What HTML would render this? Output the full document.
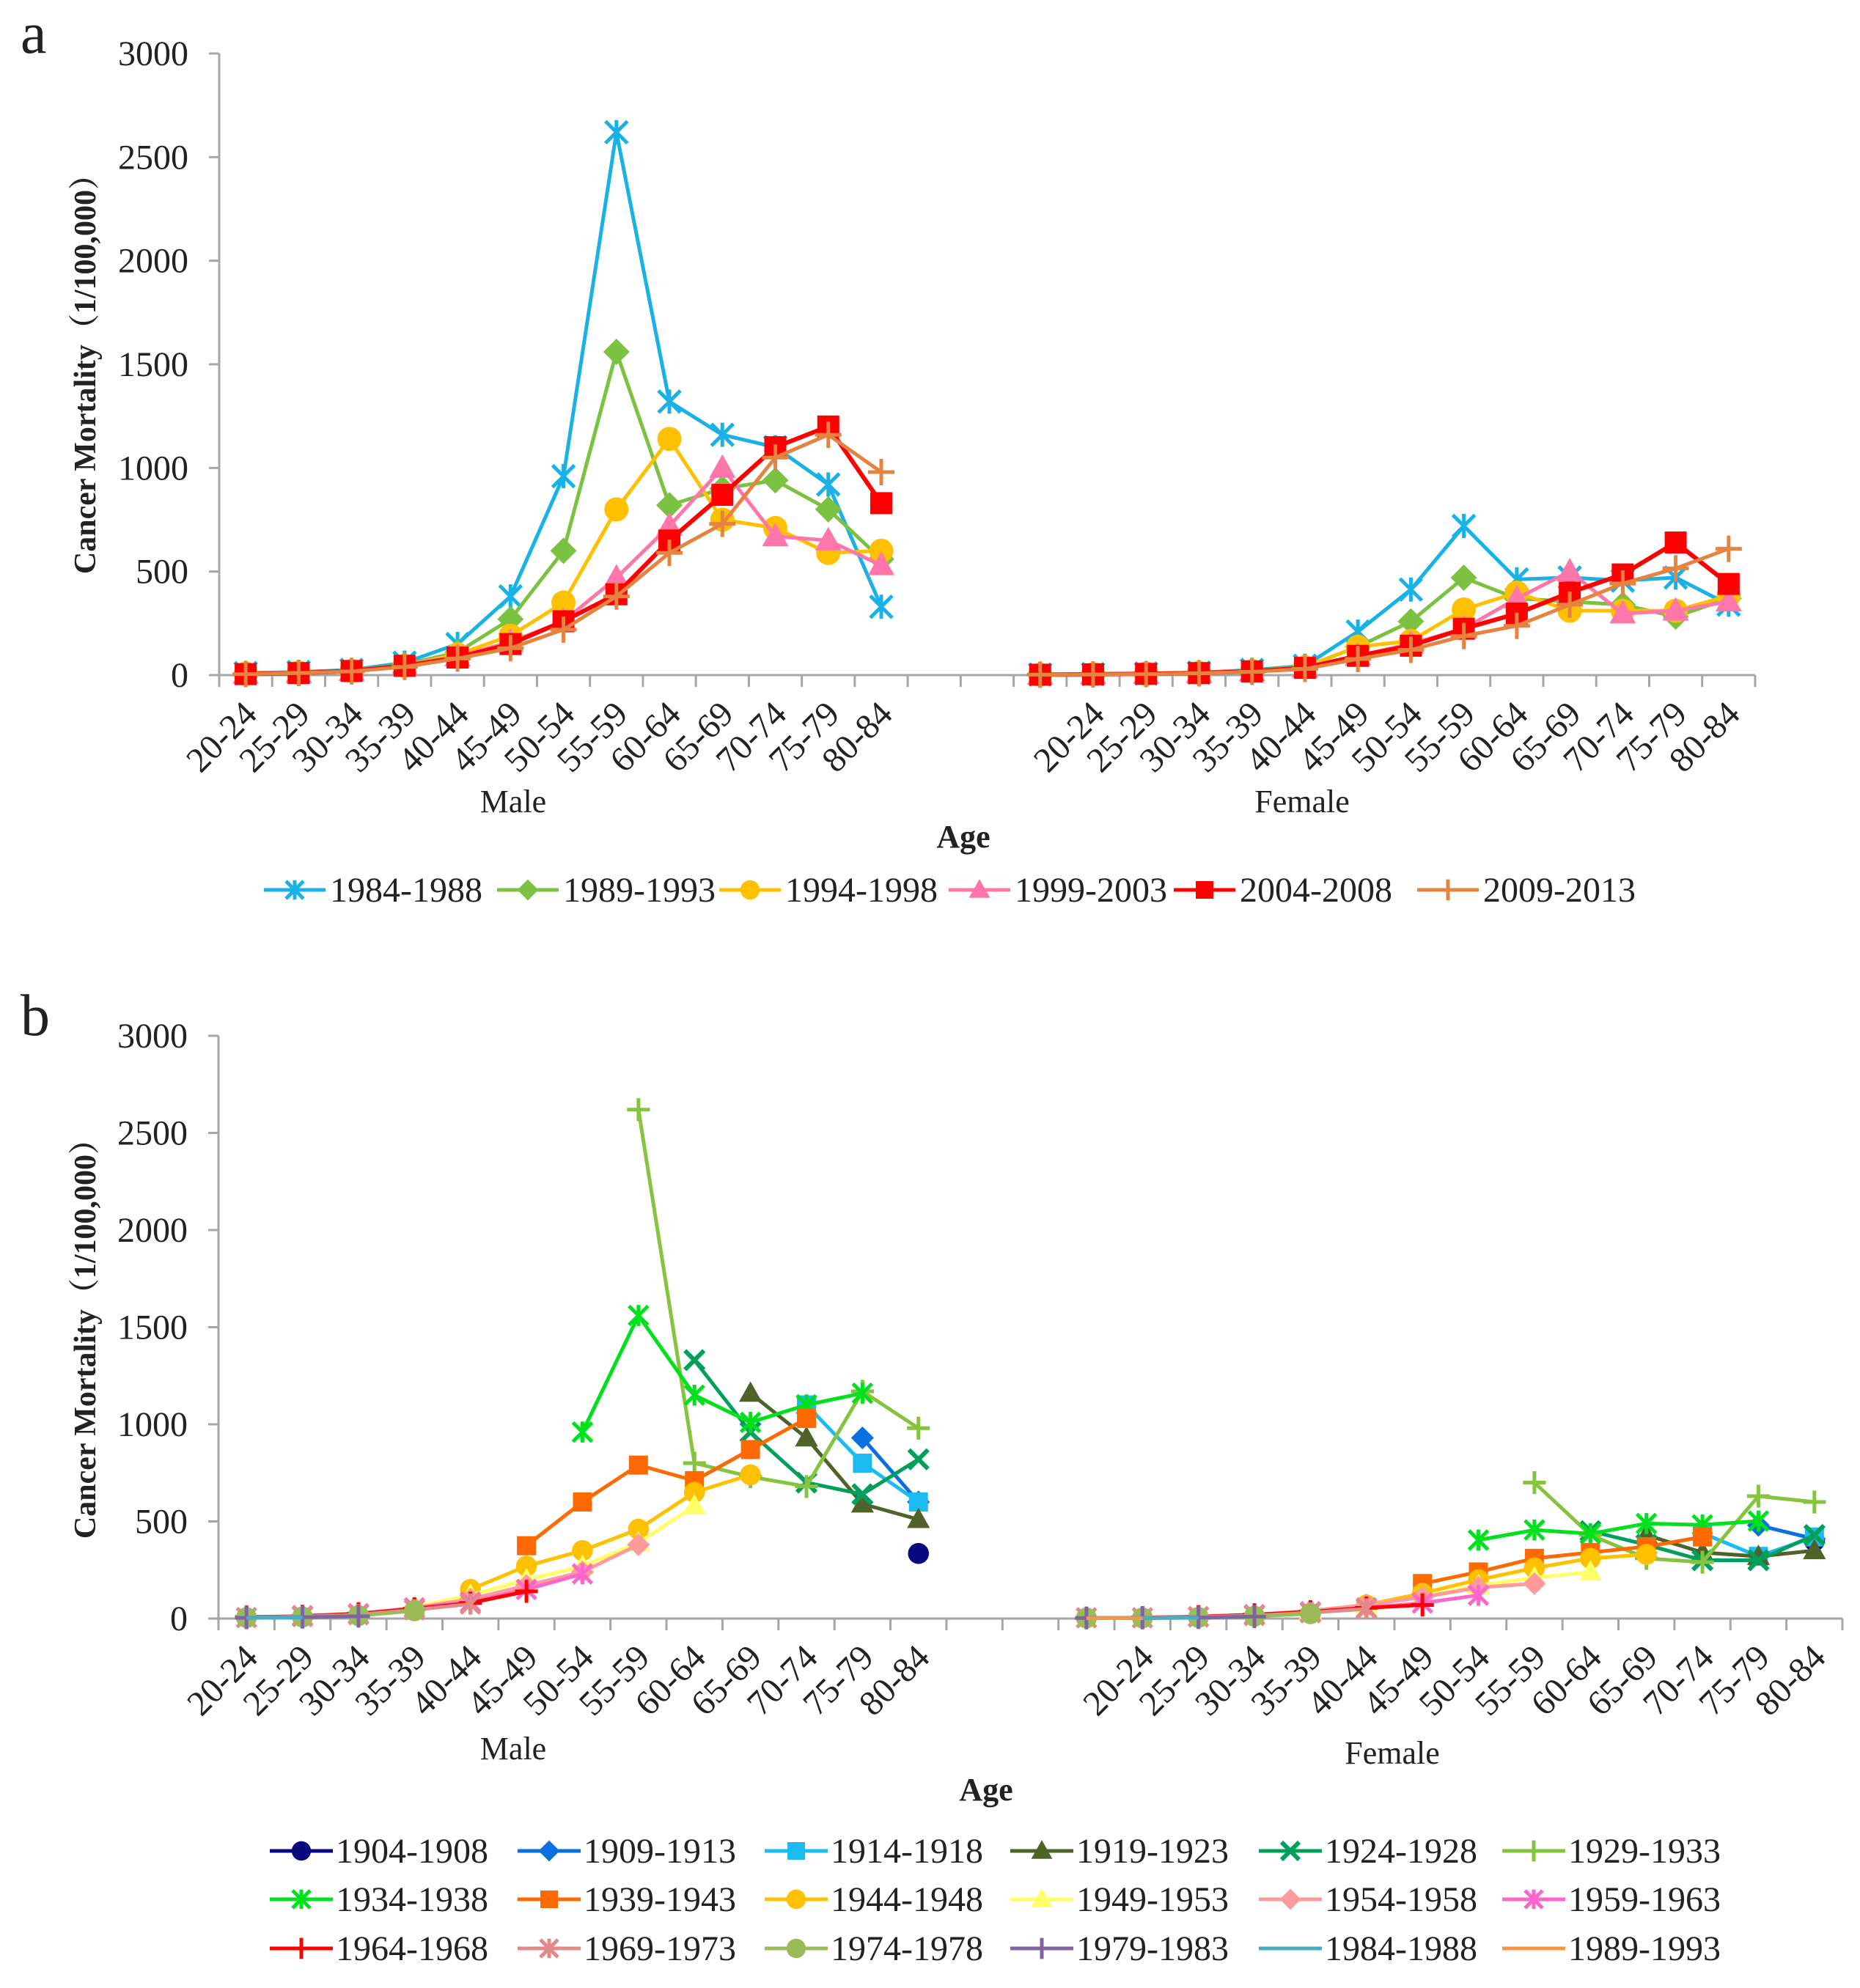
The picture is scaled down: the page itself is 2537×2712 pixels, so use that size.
<!DOCTYPE html>
<html><head><meta charset="utf-8"><style>
html,body{margin:0;padding:0;background:#fff;}
svg{display:block;font-family:"Liberation Serif",serif;}
</style></head><body>
<svg id="fig" width="2537" height="2712" viewBox="0 0 2537 2712" xmlns="http://www.w3.org/2000/svg">
<rect width="2537" height="2712" fill="#fff"/>
</svg>
<script>
// ---------- shared categories ----------
const ageLabels = ["20-24","25-29","30-34","35-39","40-44","45-49","50-54","55-59","60-64","65-69","70-74","75-79","80-84"];
const yTicks = [0,500,1000,1500,2000,2500,3000];

// ---------- panel a data ----------
const aSeriesNames = ["1984-1988","1989-1993","1994-1998","1999-2003","2004-2008","2009-2013"];
const aMale1984 = [10,15,25,60,150,380,960,2620,1320,1160,1100,920,330];
const aMale1989 = [8,12,22,50,110,270,600,1560,820,900,940,800,560];
const aMale1994 = [7,12,20,45,100,190,350,800,1140,750,710,590,600];
const aMale1999 = [6,10,20,45,90,160,260,470,720,1000,670,650,530];
const aMale2004 = [5,10,20,45,85,150,260,390,650,870,1100,1200,830];
const aMale2009 = [5,10,18,40,80,130,220,380,590,730,1050,1160,980];
const aFem1984 = [3,5,8,12,25,45,210,413,720,462,471,456,471,340];
const aFem1989 = [3,5,8,12,22,40,137,259,470,370,355,340,282,370];
const aFem1994 = [2,4,7,11,20,38,137,165,317,398,311,311,311,383];
const aFem1999 = [2,4,6,10,18,35,93,151,224,370,500,297,311,355];
const aFem2004 = [2,4,6,10,18,35,93,142,224,297,398,486,640,440];
const aFem2009 = [2,3,5,9,16,30,78,122,189,238,340,442,515,610];

// ---------- panel b data (null = no value) ----------
const N = null;
const bSeriesNames = ["1904-1908","1909-1913","1914-1918","1919-1923","1924-1928","1929-1933","1934-1938","1939-1943","1944-1948","1949-1953","1954-1958","1959-1963","1964-1968","1969-1973","1974-1978","1979-1983","1984-1988","1989-1993"];
const bMale1904 = [N,N,N,N,N,N,N,N,N,N,N,N,335];
const bMale1909 = [N,N,N,N,N,N,N,N,N,N,N,930,600];
const bMale1914 = [N,N,N,N,N,N,N,N,N,N,1100,800,600];
const bMale1919 = [N,N,N,N,N,N,N,N,N,1160,930,590,510];
const bMale1924 = [N,N,N,N,N,N,N,N,1330,960,700,640,820];
const bMale1929 = [N,N,N,N,N,N,N,2620,800,730,680,1170,980];
const bMale1934 = [N,N,N,N,N,N,960,1560,1150,1010,1100,1160,N];
const bMale1939 = [N,N,N,N,N,375,600,790,710,870,1030,N,N];
const bMale1944 = [N,N,N,N,150,270,350,460,650,740,N,N,N];
const bMale1949 = [N,N,N,60,120,200,270,390,580,N,N,N,N];
const bMale1954 = [N,N,25,55,100,170,240,380,N,N,N,N,N];
const bMale1959 = [N,15,25,55,85,150,230,N,N,N,N,N,N];
const bMale1964 = [8,12,25,50,80,140,N,N,N,N,N,N,N];
const bMale1969 = [5,10,20,45,75,N,N,N,N,N,N,N,N];
const bMale1974 = [5,8,15,40,N,N,N,N,N,N,N,N,N];
const bMale1979 = [4,7,12,N,N,N,N,N,N,N,N,N,N];
const bMale1984 = [3,6,N,N,N,N,N,N,N,N,N,N,N];
const bMale1989 = [3,N,N,N,N,N,N,N,N,N,N,N,N];
const bFem1904 = [N,N,N,N,N,N,N,N,N,N,N,N,N,400];
const bFem1909 = [N,N,N,N,N,N,N,N,N,N,N,N,480,410];
const bFem1914 = [N,N,N,N,N,N,N,N,N,N,N,440,320,420];
const bFem1919 = [N,N,N,N,N,N,N,N,N,N,430,340,320,350];
const bFem1924 = [N,N,N,N,N,N,N,N,N,450,380,300,300,430];
const bFem1929 = [N,N,N,N,N,N,N,N,700,430,310,290,630,600];
const bFem1934 = [N,N,N,N,N,N,N,404,456,437,489,482,502,N];
const bFem1939 = [N,N,N,N,N,N,180,240,310,340,370,420,N,N];
const bFem1944 = [N,N,N,N,N,70,130,200,260,310,330,N,N,N];
const bFem1949 = [N,N,N,N,40,70,110,170,210,240,N,N,N,N];
const bFem1954 = [N,N,N,20,40,70,110,160,180,N,N,N,N,N];
const bFem1959 = [N,N,10,20,35,55,80,120,N,N,N,N,N,N];
const bFem1964 = [N,5,10,20,35,55,70,N,N,N,N,N,N,N];
const bFem1969 = [4,4,8,15,30,50,N,N,N,N,N,N,N,N];
const bFem1974 = [3,3,6,12,25,N,N,N,N,N,N,N,N,N];
const bFem1979 = [3,3,5,10,N,N,N,N,N,N,N,N,N,N];
const bFem1984 = [2,2,4,N,N,N,N,N,N,N,N,N,N,N];
const bFem1989 = [2,2,N,N,N,N,N,N,N,N,N,N,N,N];

// ---------- styles (not data) ----------
const aStyles = [
 {c:"#19b1e6",m:"star",w:5},{c:"#7cc242",m:"diamond",w:5},{c:"#ffc000",m:"circle",w:5},
 {c:"#ff77aa",m:"triangle",w:5},{c:"#ff0000",m:"square",w:6},{c:"#e58340",m:"plus",w:5}];
const bStyles = [
 {c:"#0a0a80",m:"circle"},{c:"#0a6fe0",m:"diamond"},{c:"#1cbcf2",m:"square"},{c:"#4f6228",m:"triangle"},
 {c:"#00a05c",m:"x"},{c:"#86c440",m:"plus"},{c:"#00e11e",m:"star"},{c:"#ff6a00",m:"square"},
 {c:"#ffc000",m:"circle"},{c:"#ffff66",m:"triangle"},{c:"#ff9a9a",m:"diamond"},{c:"#ff66cc",m:"star"},
 {c:"#ff0000",m:"plus"},{c:"#e08a8a",m:"star"},{c:"#9bbb59",m:"circle"},{c:"#8064a2",m:"plus"},
 {c:"#4bacc6",m:"none"},{c:"#f79646",m:"none"}];

const SVGNS="http://www.w3.org/2000/svg";
const svg=document.getElementById("fig");
function el(tag,attrs,parent){const e=document.createElementNS(SVGNS,tag);for(const k in attrs)e.setAttribute(k,attrs[k]);(parent||svg).appendChild(e);return e;}

function marker(g,type,x,y,c,s){
  let e;
  if(type==="circle"){e=el("circle",{cx:x,cy:y,r:s*0.55,fill:c},g);}
  else if(type==="square"){e=el("rect",{x:x-s*0.5,y:y-s*0.5,width:s,height:s,fill:c},g);}
  else if(type==="diamond"){e=el("polygon",{points:`${x},${y-s*0.6} ${x+s*0.6},${y} ${x},${y+s*0.6} ${x-s*0.6},${y}`,fill:c},g);}
  else if(type==="triangle"){e=el("polygon",{points:`${x},${y-s*0.62} ${x+s*0.6},${y+s*0.45} ${x-s*0.6},${y+s*0.45}`,fill:c},g);}
  else if(type==="plus"){const h=s*0.6;e=el("path",{d:`M${x-h},${y}H${x+h}M${x},${y-h}V${y+h}`,stroke:c,"stroke-width":5,fill:"none"},g);}
  else if(type==="x"){const h=s*0.5;e=el("path",{d:`M${x-h},${y-h}L${x+h},${y+h}M${x-h},${y+h}L${x+h},${y-h}`,stroke:c,"stroke-width":6,fill:"none"},g);}
  else if(type==="star"){const h=s*0.5;e=el("path",{d:`M${x-h},${y-h}L${x+h},${y+h}M${x-h},${y+h}L${x+h},${y-h}M${x},${y-h*1.1}V${y+h*1.1}`,stroke:c,"stroke-width":5,fill:"none"},g);}
  if(e){
    
    
  }
}

function legendIcon(g,x,y,st,len){
  const l=el("line",{x1:x,y1:y,x2:x+len,y2:y,stroke:st.c,"stroke-width":5},g);
  
  
  marker(g,st.m,x+len/2,y,st.c,24);
}

function panel(cfg){
  const {x0,step,y0,yTop,id}=cfg;
  const xs=i=>x0+step*(i+0.5);
  const ys=v=>y0-(v/3000)*(y0-yTop);
  const xEnd=x0+step*29;
  const g=el("g",{});
  
  
  const ya=el("line",{x1:x0,y1:yTop,x2:x0,y2:y0,stroke:"#a6a6a6","stroke-width":3},g);
  
  
  const xa=el("line",{x1:x0-14,y1:y0,x2:xEnd,y2:y0,stroke:"#a6a6a6","stroke-width":3},g);
  
  
  yTicks.forEach(t=>{
    const y=ys(t);
    el("line",{x1:x0-14,y1:y,x2:x0,y2:y,stroke:"#a6a6a6","stroke-width":3},g);
    const tx=el("text",{x:x0-42,y:y+16,"text-anchor":"end","font-size":48,fill:"#222"},g);
    tx.textContent=t;
    
    
  });
  for(let i=0;i<=29;i++){el("line",{x1:x0+step*i,y1:y0,x2:x0+step*i,y2:y0+16,stroke:"#a6a6a6","stroke-width":3},g);}
  const placeLabel=(i,t)=>{
    const x=xs(i)-6,y=y0+32;
    const tx=el("text",{x:x,y:y,"text-anchor":"end","font-size":48,fill:"#222",transform:`rotate(-45 ${x} ${y})`,"dominant-baseline":"hanging"},g);
    tx.textContent=t;
    
    
  };
  ageLabels.forEach((t,i)=>placeLabel(i,t));
  ageLabels.forEach((t,i)=>placeLabel(16+i,t));
  const names=cfg.names, styles=cfg.styles;
  names.forEach((nm,si)=>{
    const st=styles[si];
    const sg=el("g",{},g);
    
    
    [[cfg.male[si],0],[cfg.fem[si],15]].forEach(([arr,off])=>{
      let d="",pen=false;
      arr.forEach((v,k)=>{
        if(v===null){pen=false;return;}
        d+=(pen?"L":"M")+xs(off+k)+","+ys(v);pen=true;
      });
      if(d){
        const p=el("path",{d:d,stroke:st.c,"stroke-width":st.w||5,fill:"none","stroke-linejoin":"round"},sg);
        
        
      }
      arr.forEach((v,k)=>{ if(v!==null) marker(sg,st.m,xs(off+k),ys(v),st.c,cfg.ms); });
    });
  });
  return {xs,ys};
}

panel({id:"panel-a",x0:299,step:72.24,y0:921,yTop:73,ms:30,names:aSeriesNames,styles:aStyles,
  male:[aMale1984,aMale1989,aMale1994,aMale1999,aMale2004,aMale2009],
  fem:[aFem1984,aFem1989,aFem1994,aFem1999,aFem2004,aFem2009]});
panel({id:"panel-b",x0:298,step:76.38,y0:2208,yTop:1413,ms:26,names:bSeriesNames,styles:bStyles,
  male:[bMale1904,bMale1909,bMale1914,bMale1919,bMale1924,bMale1929,bMale1934,bMale1939,bMale1944,bMale1949,bMale1954,bMale1959,bMale1964,bMale1969,bMale1974,bMale1979,bMale1984,bMale1989],
  fem:[bFem1904,bFem1909,bFem1914,bFem1919,bFem1924,bFem1929,bFem1934,bFem1939,bFem1944,bFem1949,bFem1954,bFem1959,bFem1964,bFem1969,bFem1974,bFem1979,bFem1984,bFem1989]});

function txt(x,y,s,size,extra,name){
  const t=el("text",Object.assign({x:x,y:y,"font-size":size,fill:"#222"},extra||{}));
  t.textContent=s;
  
  
  return t;
}
txt(28,72,"a",80,{},"panel-a-letter");
txt(28,1412,"b",80,{},"panel-b-letter");
txt(700,1108,"Male",44,{"text-anchor":"middle"},"male-group-label");
txt(1776,1108,"Female",44,{"text-anchor":"middle"},"female-group-label");
txt(1314,1156,"Age",44,{"text-anchor":"middle","font-weight":"bold"},"x-axis-title");
txt(700,2400,"Male",44,{"text-anchor":"middle"},"male-group-label-b");
txt(1899,2406,"Female",44,{"text-anchor":"middle"},"female-group-label-b");
txt(1345,2456,"Age",44,{"text-anchor":"middle","font-weight":"bold"},"x-axis-title-b");
txt(130,500,"Cancer Mortality（1/100,000）",42,{"text-anchor":"middle","font-weight":"bold",transform:"rotate(-90 130 500)",style:'font-family:"Liberation Serif","Noto Serif CJK SC",serif'},"y-axis-title");
txt(130,1816,"Cancer Mortality（1/100,000）",42,{"text-anchor":"middle","font-weight":"bold",transform:"rotate(-90 130 1816)",style:'font-family:"Liberation Serif","Noto Serif CJK SC",serif'},"y-axis-title-b");

const legA=el("g",{});


const legAX=[360,678,981,1294,1601,1933];
aSeriesNames.forEach((nm,i)=>{
  const g=el("g",{},legA);
  
  
  legendIcon(g,legAX[i],1214,aStyles[i],84);
  const t=el("text",{x:legAX[i]+90,y:1230,"font-size":48,fill:"#222"},g);
  t.textContent=nm;
});
const legB=el("g",{});


const legBX=[368,706,1043,1378,1717,2049], legBY=[2525,2591,2658];
bSeriesNames.forEach((nm,i)=>{
  const x=legBX[i%6],y=legBY[Math.floor(i/6)];
  const g=el("g",{},legB);
  
  
  legendIcon(g,x,y,bStyles[i],86);
  const t=el("text",{x:x+90,y:y+16,"font-size":48,fill:"#222"},g);
  t.textContent=nm;
});
</script>
</body></html>
